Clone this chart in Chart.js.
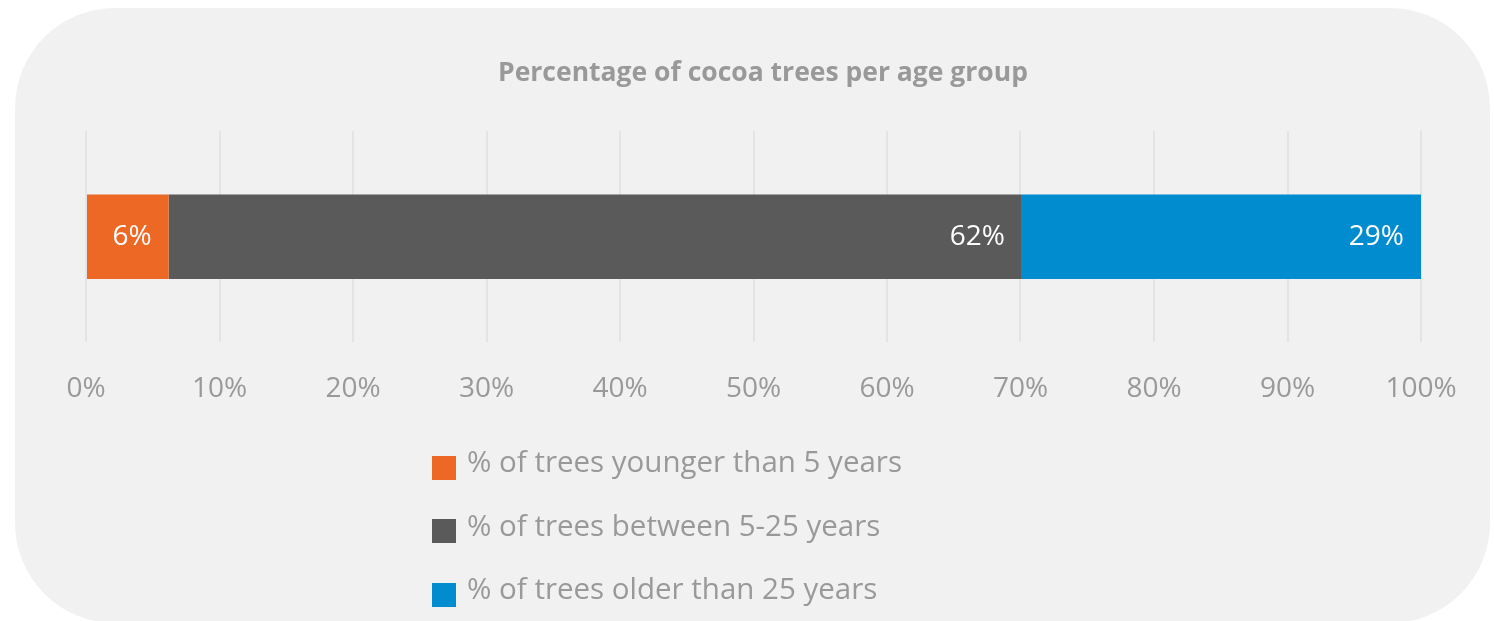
<!DOCTYPE html>
<html>
<head>
<meta charset="utf-8">
<script src="https://cdn.jsdelivr.net/npm/chart.js@4"></script>
<style>
  body { margin: 0; background: #fff; font-family: "Open Sans", sans-serif; }
  .panel { position: absolute; left: 15px; top: 8px; width: 1475px; height: 615px; border-radius: 100px; background: #f1f1f1; }
  .chartBox { position: absolute; left: 0; top: 0; width: 1494px; height: 452px; }
  #legend { position: absolute; left: 432px; top: 436px; list-style: none; margin: 0; padding: 0; }
  #legend li { display: flex; align-items: center; height: 63.5px; font-size: 29.5px; color: #999; white-space: nowrap; }
  #legend li span.caixa { display: inline-block; width: 24px; height: 24px; margin-right: 11px; }
  #legend li span.texto { position: relative; top: -7px; }
</style>
</head>
<body>
<div class="panel"></div>
<div class="chartBox"><canvas id="myChart"></canvas></div>
<ul id="legend"></ul>
<script>
const categorias = [''];
const serieNomes = [
    '% of trees younger than 5 years',
    '% of trees between 5-25 years',
    '% of trees older than 25 years'
];
const valoresJovens = [6];
const valoresMedios = [62];
const valoresVelhos = [29];
const cores = ['#ec6824', '#5a5a5a', '#008ccf'];
const ticksX = [0, 10, 20, 30, 40, 50, 60, 70, 80, 90, 100];

const series = [valoresJovens, valoresMedios, valoresVelhos];

// barra 100%: cada valor dividido pelo total da categoria
const totais = categorias.map((c, i) => series.reduce((t, s) => t + s[i], 0));
const normaliza = (arr) => arr.map((v, i) => v / totais[i] * 100);

const rotulosBarra = {
    id: 'rotulosBarra',
    afterDatasetsDraw(chart) {
        const ctx = chart.ctx;
        ctx.save();
        ctx.fillStyle = '#ffffff';
        ctx.font = '28px "Open Sans"';
        ctx.textAlign = 'right';
        ctx.textBaseline = 'middle';
        chart.data.datasets.forEach((ds, i) => {
            chart.getDatasetMeta(i).data.forEach((bar, j) => {
                ctx.fillText(series[i][j] + '%', bar.x - 17, bar.y);
            });
        });
        ctx.restore();
    }
};

const ctx = document.getElementById('myChart').getContext('2d');
const myChart = new Chart(ctx, {
    type: 'bar',
    data: {
        labels: categorias,
        datasets: series.map((s, i) => ({
            label: serieNomes[i],
            data: normaliza(s),
            backgroundColor: cores[i],
            borderWidth: 0,
            barPercentage: 0.4,
            categoryPercentage: 1
        }))
    },
    options: {
        indexAxis: 'y',
        responsive: true,
        maintainAspectRatio: false,
        animation: false,
        layout: { padding: { left: 86, right: 54, top: 0, bottom: 16 } },
        scales: {
            x: {
                stacked: true,
                min: 0,
                max: 100,
                afterBuildTicks: (axis) => { axis.ticks = ticksX.map(v => ({ value: v })); },
                grid: { color: '#e4e4e4', lineWidth: 2, drawTicks: false },
                border: { display: false },
                ticks: {
                    padding: 30,
                    color: '#999999',
                    font: { family: 'Open Sans', size: 28 },
                    callback: (v) => v + '%'
                }
            },
            y: {
                stacked: true,
                position: 'right',
                ticks: { display: false },
                grid: { display: false },
                border: { display: false },
                // so o espaco para o titulo ficar no centro certo
                afterFit: (s) => { s.width = 19; }
            }
        },
        plugins: {
            legend: { display: false },
            tooltip: { enabled: false },
            title: {
                display: true,
                text: 'Percentage of cocoa trees per age group',
                color: '#999999',
                font: { family: 'Open Sans', size: 26.5, weight: 'bold' },
                padding: { top: 58, bottom: 41.2 }
            }
        }
    },
    plugins: [rotulosBarra]
});

// legenda em HTML, uma linha por serie
const legenda = document.getElementById('legend');
myChart.options.plugins.legend.labels.generateLabels(myChart).forEach(item => {
    const li = document.createElement('li');
    const caixa = document.createElement('span');
    caixa.className = 'caixa';
    caixa.style.background = item.fillStyle;
    const texto = document.createElement('span');
    texto.className = 'texto';
    texto.textContent = item.text;
    li.appendChild(caixa);
    li.appendChild(texto);
    legenda.appendChild(li);
});
</script>
</body>
</html>
